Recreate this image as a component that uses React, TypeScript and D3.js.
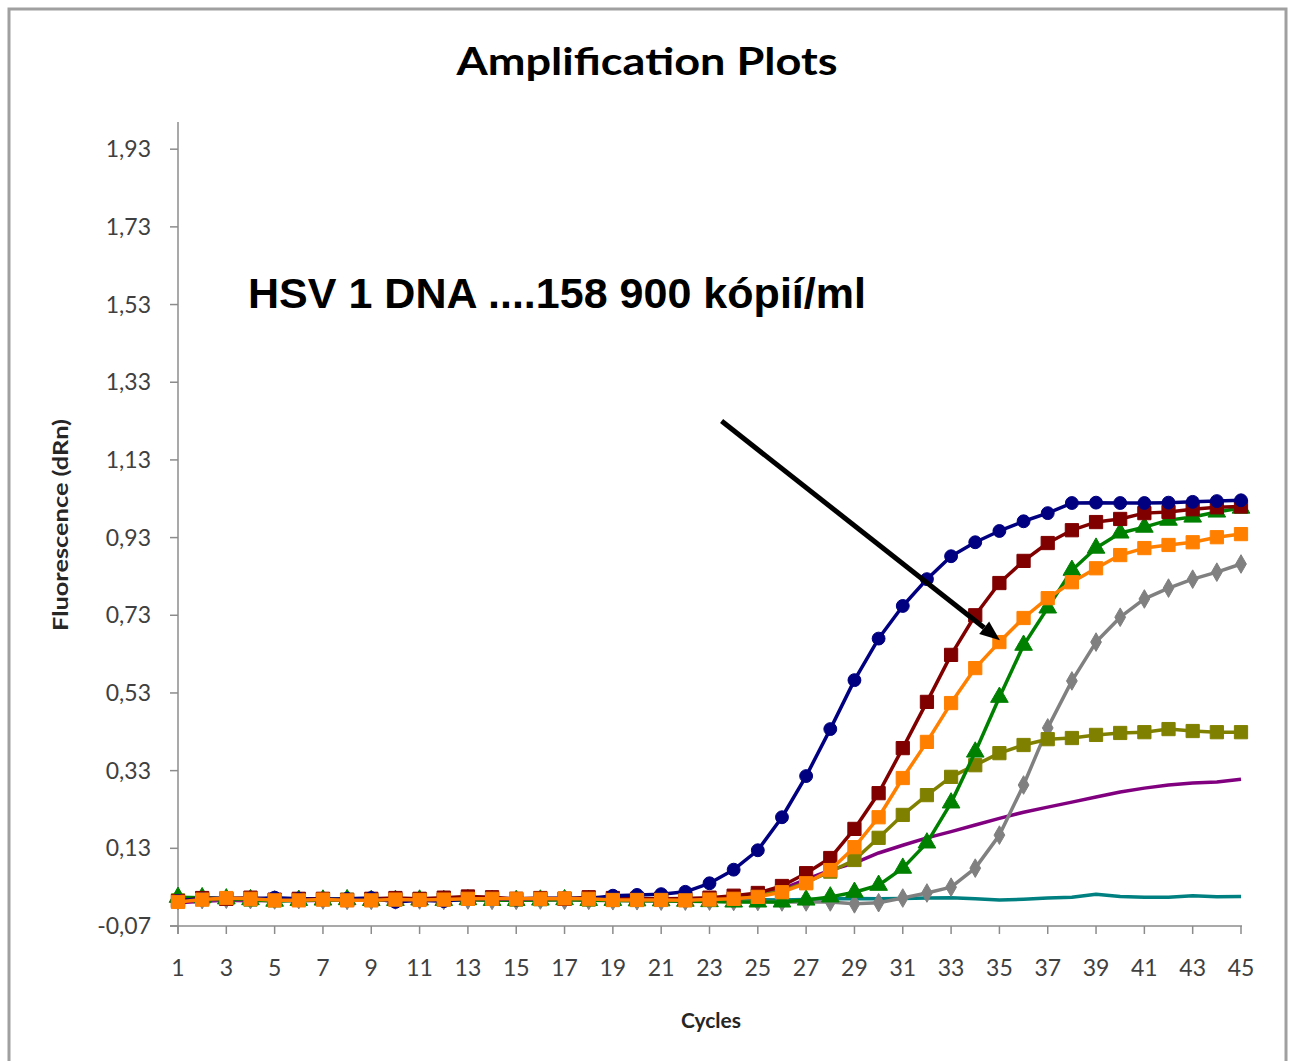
import React from "react";
import * as d3 from "d3";

// Amplification curves, cycles 1..45
const cycles = d3.range(1, 46);

const navy = [-0.005, 0.0, 0.002, 0.0, 0.003, 0.0, -0.002, 0.0, 0.002, -0.008, -0.004, -0.006, 0.0, 0.0, -0.002, 0.0, 0.002, 0.0, 0.008, 0.01, 0.012, 0.018, 0.04, 0.075, 0.125, 0.21, 0.316, 0.437, 0.563, 0.67, 0.754, 0.823, 0.882, 0.918, 0.947, 0.972, 0.993, 1.019, 1.02, 1.019, 1.019, 1.02, 1.022, 1.024, 1.026];
const darkRed = [-0.006, 0.002, 0.0, 0.003, -0.002, 0.0, 0.0, -0.003, 0.0, 0.002, 0.0, 0.003, 0.006, 0.004, 0.0, 0.002, 0.0, 0.004, 0.002, 0.0, 0.0, 0.001, 0.003, 0.008, 0.015, 0.033, 0.066, 0.105, 0.18, 0.272, 0.388, 0.507, 0.628, 0.73, 0.813, 0.87, 0.916, 0.949, 0.97, 0.978, 0.993, 0.996, 1.003, 1.008, 1.01];
const orange = [-0.008, -0.002, 0.002, 0.0, -0.004, -0.004, -0.002, -0.004, -0.004, -0.002, -0.003, -0.002, 0.0, 0.0, 0.0, 0.0, 0.001, 0.0, -0.003, -0.003, -0.003, -0.004, -0.002, 0.0, 0.005, 0.017, 0.04, 0.074, 0.133, 0.21, 0.311, 0.404, 0.504, 0.594, 0.661, 0.723, 0.774, 0.815, 0.851, 0.885, 0.903, 0.911, 0.918, 0.931, 0.939];
const green = [0.004, 0.003, 0.0, -0.002, -0.006, -0.004, -0.003, -0.002, -0.004, -0.004, -0.003, -0.004, -0.002, -0.004, -0.004, -0.003, -0.002, -0.004, -0.004, -0.005, -0.005, -0.006, -0.007, -0.008, -0.008, -0.008, -0.003, 0.005, 0.017, 0.035, 0.079, 0.144, 0.247, 0.378, 0.519, 0.653, 0.749, 0.846, 0.903, 0.942, 0.957, 0.975, 0.983, 0.996, 1.006];
const olive = [-0.004, -0.001, 0.0, -0.002, -0.004, -0.002, -0.001, -0.002, -0.003, -0.002, -0.001, -0.002, 0.0, 0.0, -0.002, -0.001, 0.0, -0.002, -0.003, -0.003, -0.002, -0.003, -0.002, 0.0, 0.008, 0.02, 0.042, 0.07, 0.1, 0.157, 0.216, 0.267, 0.314, 0.344, 0.375, 0.396, 0.411, 0.414, 0.422, 0.427, 0.429, 0.437, 0.432, 0.429, 0.429];
const purple = [-0.01, -0.006, -0.004, -0.005, -0.004, -0.005, -0.004, -0.003, -0.004, -0.004, -0.003, -0.004, -0.003, -0.003, -0.002, -0.003, -0.002, -0.002, -0.002, -0.002, -0.001, -0.001, 0.0, 0.002, 0.01, 0.025, 0.05, 0.074, 0.092, 0.118, 0.138, 0.157, 0.173, 0.19, 0.207, 0.223, 0.236, 0.249, 0.262, 0.275, 0.285, 0.293, 0.298, 0.301, 0.308];
const gray = [-0.004, -0.002, -0.001, -0.002, -0.003, -0.002, -0.003, -0.004, -0.004, -0.003, -0.003, -0.004, -0.003, -0.004, -0.004, -0.003, -0.004, -0.004, -0.005, -0.005, -0.006, -0.006, -0.006, -0.007, -0.007, -0.008, -0.008, -0.008, -0.013, -0.01, 0.002, 0.015, 0.03, 0.079, 0.164, 0.293, 0.44, 0.561, 0.661, 0.725, 0.772, 0.8, 0.823, 0.841, 0.862];
const teal = [0.002, 0.001, 0.0, 0.0, -0.001, 0.0, 0.0, -0.001, 0.0, 0.0, 0.0, -0.001, 0.0, 0.0, -0.001, 0.0, 0.0, -0.001, 0.0, 0.0, 0.0, -0.001, 0.0, 0.0, -0.002, -0.003, -0.002, 0.0, 0.001, 0.0, 0.001, 0.002, 0.003, 0.0, -0.003, -0.001, 0.002, 0.004, 0.012, 0.006, 0.004, 0.004, 0.008, 0.005, 0.006];

const yTicks = [-0.07, 0.13, 0.33, 0.53, 0.73, 0.93, 1.13, 1.33, 1.53, 1.73, 1.93];
const xTicks = d3.range(1, 46, 2);

type Marker = "circle" | "square" | "triangle" | "diamond" | "none";
const series: { name: string; values: number[]; color: string; marker: Marker }[] = [
  { name: "teal", values: teal, color: "#008080", marker: "none" },
  { name: "purple", values: purple, color: "#800080", marker: "none" },
  { name: "gray", values: gray, color: "#808080", marker: "diamond" },
  { name: "olive", values: olive, color: "#808000", marker: "square" },
  { name: "green", values: green, color: "#008000", marker: "triangle" },
  { name: "darkRed", values: darkRed, color: "#800000", marker: "square" },
  { name: "navy", values: navy, color: "#000080", marker: "circle" },
  { name: "orange", values: orange, color: "#FF8000", marker: "square" },
];

const annotation = "HSV 1 DNA ....158 900 kópií/ml";
const arrowFrom = [23.5, 1.23];
const arrowTo = [35.02, 0.666];

const LEFT = 178;
const RIGHT = 1241;
const TOP = 122;
const BOTTOM = 926;

const symbolFor = (m: Marker) => {
  if (m === "circle") return d3.symbol(d3.symbolCircle, 130)();
  if (m === "square") return d3.symbol(d3.symbolSquare, 175)();
  if (m === "triangle") return d3.symbol(d3.symbolTriangle, 135)();
  if (m === "diamond") return d3.symbol(d3.symbolDiamond, 100)();
  return null;
};

const App = () => {
  const x = d3.scaleLinear().domain([1, 45]).range([LEFT, RIGHT]);
  const y = d3.scaleLinear().domain([-0.07, 2.0]).range([BOTTOM, TOP]);
  const line = d3
    .line<number>()
    .x((_, i) => x(cycles[i]))
    .y((d) => y(d));

  const fmt = (v: number) => v.toFixed(2).replace(".", ",");
  const calibri = "Lato, 'Open Sans', sans-serif";

  const ax = x(arrowFrom[0]);
  const ay = y(arrowFrom[1]);
  const bx = x(arrowTo[0]);
  const by = y(arrowTo[1]);
  const ang = Math.atan2(by - ay, bx - ax);
  const headLen = 20;
  const headW = 8;
  const baseX = bx - headLen * Math.cos(ang);
  const baseY = by - headLen * Math.sin(ang);
  const head = [
    [bx, by],
    [baseX + headW * Math.sin(ang), baseY - headW * Math.cos(ang)],
    [baseX - headW * Math.sin(ang), baseY + headW * Math.cos(ang)],
  ];

  return (
    <svg
      width={1290}
      height={1061}
      style={{ position: "absolute", left: 0, top: 0, background: "#fff" }}
    >
      <rect x={9} y={9} width={1277} height={1070} fill="#fff" stroke="#a0a0a0" strokeWidth={3} />

      <text x={647} y={75} textAnchor="middle" fontFamily={calibri} fontWeight="bold" fontSize={38} textLength={381} lengthAdjust="spacingAndGlyphs" fill="#000">
        Amplification Plots
      </text>

      {/* axes */}
      <line x1={LEFT} x2={LEFT} y1={TOP} y2={BOTTOM + 8} stroke="#8c8c8c" strokeWidth={1.5} />
      <line x1={LEFT - 8} x2={RIGHT + 1} y1={BOTTOM} y2={BOTTOM} stroke="#8c8c8c" strokeWidth={1.5} />
      {yTicks.map((t) => (
        <g key={t}>
          <line x1={LEFT - 8} x2={LEFT} y1={y(t)} y2={y(t)} stroke="#8c8c8c" strokeWidth={1.5} />
          <text x={151} y={y(t) + 8} textAnchor="end" fontFamily={calibri} fontSize={23} fill="#404040">
            {fmt(t)}
          </text>
        </g>
      ))}
      {xTicks.map((t) => (
        <g key={t}>
          <line x1={x(t)} x2={x(t)} y1={BOTTOM} y2={BOTTOM + 8} stroke="#8c8c8c" strokeWidth={1.5} />
          <text x={x(t)} y={976} textAnchor="middle" fontFamily={calibri} fontSize={23} fill="#404040">
            {t}
          </text>
        </g>
      ))}
      <text x={711} y={1028} textAnchor="middle" fontFamily={calibri} fontWeight="bold" fontSize={21} fill="#262626">
        Cycles
      </text>
      <text
        transform={`translate(68,525) rotate(-90)`}
        textAnchor="middle"
        fontFamily={calibri}
        fontWeight="bold"
        fontSize={21}
        textLength={212}
        lengthAdjust="spacingAndGlyphs"
        fill="#262626"
      >
        Fluorescence (dRn)
      </text>

      {/* curves */}
      {series.map((s) => {
        const sym = symbolFor(s.marker);
        return (
          <g key={s.name}>
            <path d={line(s.values) || ""} fill="none" stroke={s.color} strokeWidth={3.5} strokeLinejoin="round" />
            {sym &&
              s.values.map((v, i) => (
                <path
                  key={i}
                  d={sym}
                  transform={`translate(${x(cycles[i])},${y(v)})`}
                  fill={s.color}
                  stroke={s.color}
                  strokeWidth={1}
                />
              ))}
          </g>
        );
      })}

      {/* annotation */}
      <text x={248} y={308} fontFamily="'Liberation Sans', Arial, sans-serif" fontWeight="bold" fontSize={42} textLength={618} lengthAdjust="spacingAndGlyphs" fill="#000">
        {annotation}
      </text>
      <line x1={ax} y1={ay} x2={baseX} y2={baseY} stroke="#000" strokeWidth={5} />
      <polygon points={head.map((p) => p.join(",")).join(" ")} fill="#000" />
    </svg>
  );
};

export default App;
